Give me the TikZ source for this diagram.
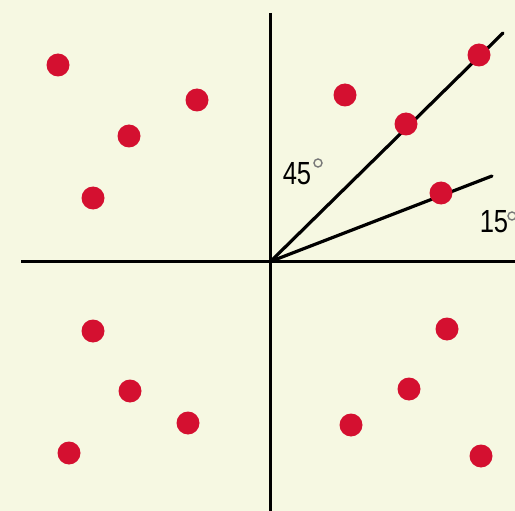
\documentclass[tikz,border=0pt]{standalone}
\usepackage{fontspec}
\setmainfont{Liberation Sans}
\definecolor{bg}{RGB}{246,248,226}
\definecolor{dotred}{RGB}{212,16,48}
\definecolor{deggray}{RGB}{120,120,120}
\begin{document}
\begin{tikzpicture}[x=1pt,y=-1pt,
  axis/.style={line width=3pt,black},
  ray/.style={line width=3.2pt,black,line cap=round},
  dot/.style={circle,fill=dotred,minimum size=23pt,inner sep=0pt},
  lbl/.style={font=\fontsize{32}{32}\selectfont,inner sep=0pt,xscale=0.8},
  deg/.style={circle,draw=deggray,line width=1.4pt,minimum size=8pt,inner sep=0pt}]
\fill[bg] (0,0) rectangle (515,511);
\useasboundingbox (0,0) rectangle (515,511);
\coordinate (O) at (270.5,261.5);
\coordinate (top) at (270.5,13);
\coordinate (bot) at (270.5,511);
\coordinate (left) at (21,261.5);
\coordinate (right) at (515,261.5);
\coordinate (r45) at (503,33);
\coordinate (r15) at (492,176);
\draw[axis] (top) -- (bot);
\draw[axis] (left) -- (right);
\draw[ray] (O) -- (r45);
\draw[ray] (O) -- (r15);
\node[lbl,anchor=base] (t45) at (297,185) {45};
\node[deg] (d45) at (318,163) {};
\node[lbl,anchor=base] (t15) at (494,233) {15};
\node[deg] (d15) at (512,216) {};
\node[dot] (a) at (58,65) {};
\node[dot] (b) at (197,100) {};
\node[dot] (c) at (129,136) {};
\node[dot] (d) at (93,198) {};
\node[dot] (e) at (345,95) {};
\node[dot] (f) at (406,124) {};
\node[dot] (g) at (479,55) {};
\node[dot] (h) at (441,193) {};
\node[dot] (i) at (93,331) {};
\node[dot] (j) at (130,391) {};
\node[dot] (k) at (188,423) {};
\node[dot] (l) at (69,453) {};
\node[dot] (m) at (447,329) {};
\node[dot] (n) at (409,389) {};
\node[dot] (o) at (351,425) {};
\node[dot] (p) at (481,456) {};
\end{tikzpicture}
\end{document}
